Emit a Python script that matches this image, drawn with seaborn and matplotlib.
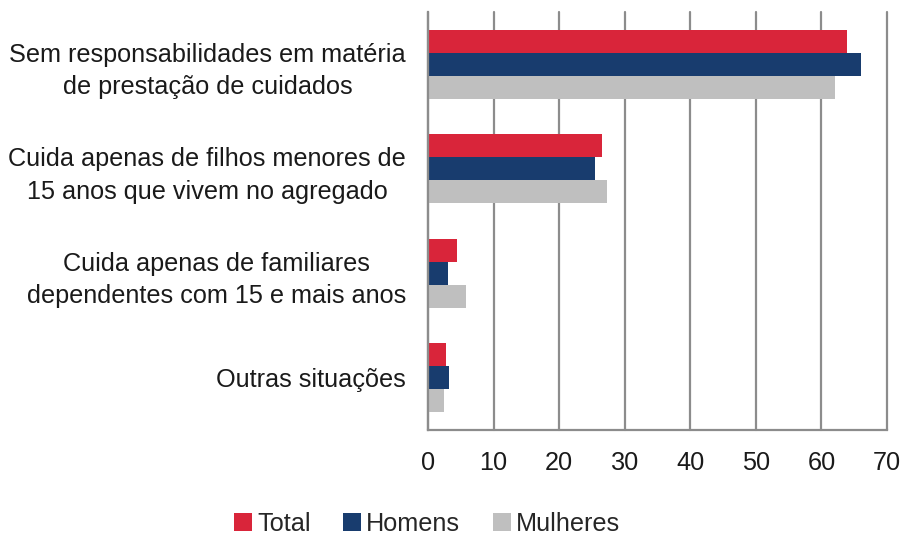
import numpy as np
import pandas as pd
import matplotlib
matplotlib.use('Agg')
import matplotlib.pyplot as plt
import seaborn as sns

# Data (%)
categories = [
    "Sem responsabilidades em matéria\nde prestação de cuidados",
    "Cuida apenas de filhos menores de\n15 anos que vivem no agregado",
    "Cuida apenas de familiares\ndependentes com 15 e mais anos",
    "Outras situações",
]
series = ["Total", "Homens", "Mulheres"]
total = [63.9, 26.5, 4.5, 2.7]
homens = [66.0, 25.5, 3.0, 3.2]
mulheres = [62.1, 27.3, 5.8, 2.4]
colors = ["#D9253A", "#183C6E", "#BFBFBF"]

df = pd.DataFrame({
    "Categoria": categories * 3,
    "Grupo": [s for s in series for _ in categories],
    "Valor": total + homens + mulheres,
})

sns.set_style("white")
plt.rcParams['font.family'] = ['Liberation Sans', 'DejaVu Sans']

fig = plt.figure(figsize=(9.01, 5.40), dpi=100)
ax = fig.add_axes([0.475, 0.2037, 0.5095, 0.7743])

sns.barplot(data=df, y="Categoria", x="Valor", hue="Grupo", orient="h",
            palette=colors, saturation=1, width=0.66, gap=0, linewidth=0,
            ax=ax, legend=True)

ax.set_xlim(0, 70)
ax.set_ylim(3.5, -0.5)
ax.set_xticks(np.arange(0, 71, 10))
ax.set_xlabel("")
ax.set_ylabel("")

grid_col = "#8C8C8C"
ax.grid(axis="x", color=grid_col, linewidth=1.6)
for gl in ax.get_xgridlines():
    gl.set_clip_on(False)
ax.set_axisbelow(True)
for side in ["top", "right"]:
    ax.spines[side].set_visible(False)
for side in ["left", "bottom"]:
    ax.spines[side].set_color(grid_col)
    ax.spines[side].set_linewidth(1.6)

fs = 18.2
ax.set_yticks(np.arange(-0.5, 4.0, 1.0), minor=True)
ax.tick_params(axis="y", which="major", length=0, labelsize=fs, pad=16, colors="#1a1a1a")
ax.tick_params(axis="y", which="minor", length=6, width=1.6, color=grid_col, direction="out")
ax.tick_params(axis="x", length=6, width=1.6, color=grid_col, direction="out",
               labelsize=fs, labelcolor="#1a1a1a", pad=9)
plt.setp(ax.get_yticklabels(), multialignment="center", linespacing=1.45)

handles, labels = ax.get_legend_handles_labels()
ax.get_legend().remove()
fig.legend(handles, labels, loc="center", bbox_to_anchor=(0.474, 0.03), ncol=3,
           frameon=False, fontsize=fs, handlelength=0.7, handleheight=0.7,
           handletextpad=0.2, columnspacing=1.3, borderpad=0.1)

fig.savefig("out.png", dpi=100)
